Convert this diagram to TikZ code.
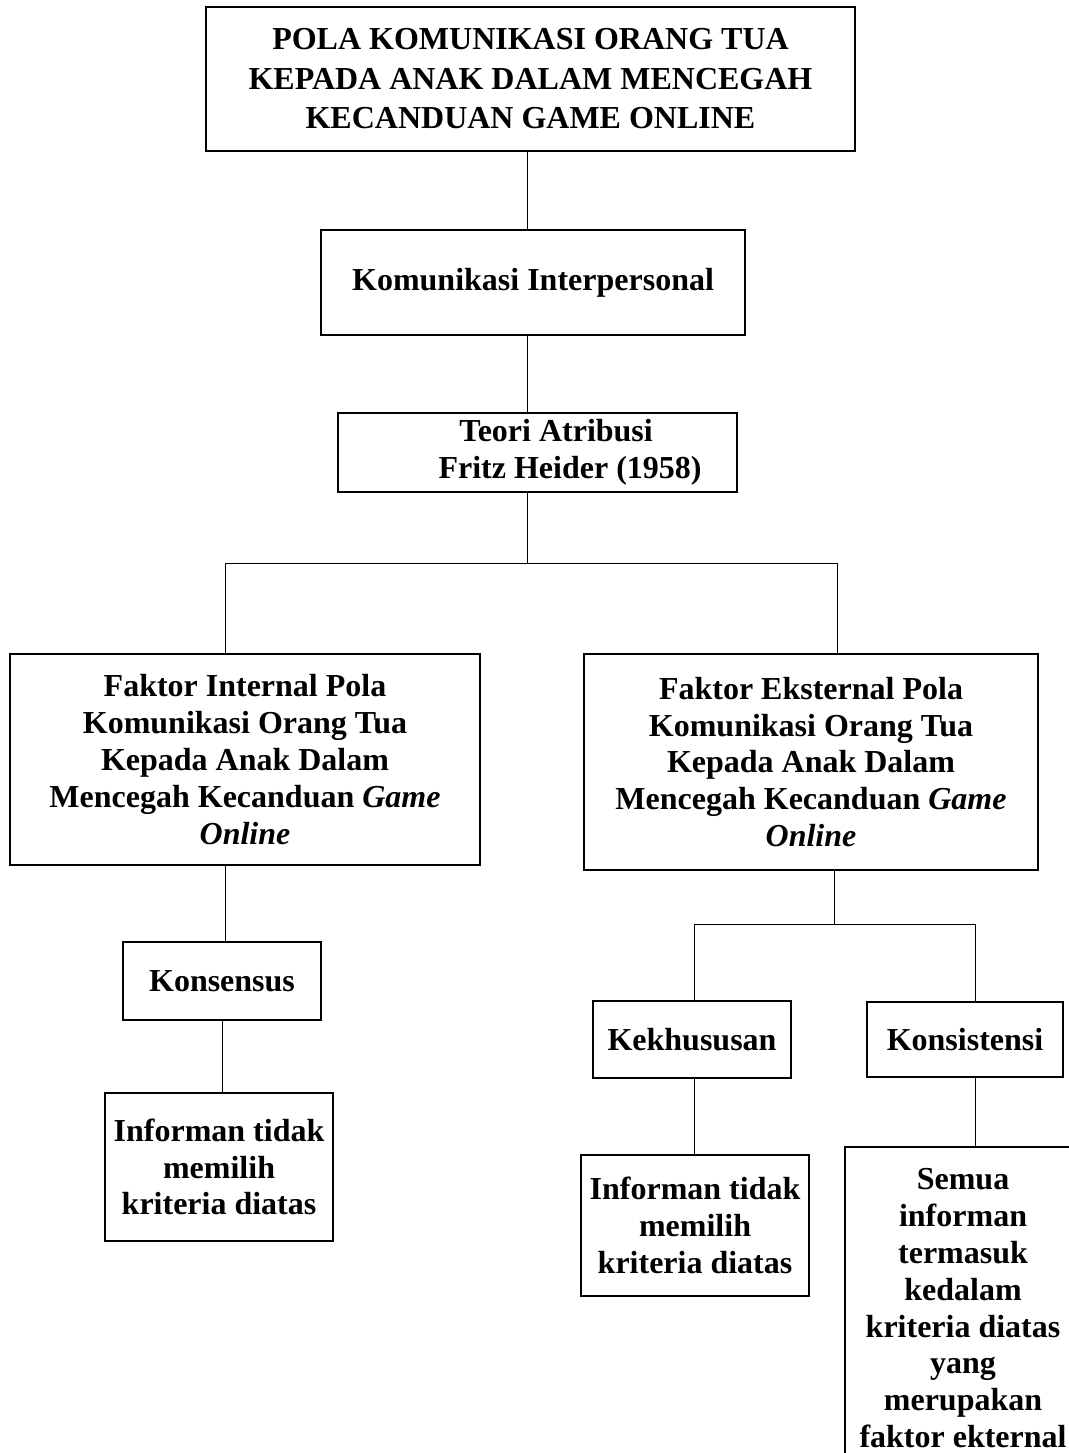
\documentclass[tikz,border=0pt]{standalone}
\usepackage{fontspec}
\setmainfont{Liberation Serif}
\usetikzlibrary{positioning}

\begin{document}
\begin{tikzpicture}[x=0.75pt, y=-0.75pt,
  box/.style={draw, line width=1.5pt, align=center, inner sep=0pt,
    font=\fontsize{24}{27.6}\selectfont\bfseries},
  link/.style={line width=0.75pt}]
  % Kerangka pemikiran
  \useasboundingbox (0,0) rectangle (1068,1453);

  \node[box, minimum width=486.75pt, minimum height=108pt,
    font=\fontsize{24}{29.6}\selectfont\bfseries] (title) at (530.5,79)
    {POLA KOMUNIKASI ORANG TUA\\KEPADA ANAK DALAM MENCEGAH\\KECANDUAN GAME ONLINE};
  \node[box, minimum width=318pt, minimum height=78.75pt, below=57.75pt of title, xshift=1.9pt] (kom)
    {\raisebox{-5pt}{Komunikasi Interpersonal}};
  \node[box, minimum width=299.25pt, minimum height=59.25pt, below=57pt of kom, xshift=3.4pt] (teori)
    {\hspace*{27.75pt}Teori Atribusi\\\hspace*{48.75pt}Fritz Heider (1958)};

  \node[box, minimum width=352.5pt, minimum height=158.25pt, below=120pt of teori, xshift=-219.4pt] (fint)
    {Faktor Internal Pola\\Komunikasi Orang Tua\\Kepada Anak Dalam\\Mencegah Kecanduan \textit{Game}\\\textit{Online}};
  \node[box, minimum width=340.5pt, minimum height=162pt, below=120pt of teori, xshift=205.1pt] (fext)
    {Faktor Eksternal Pola\\Komunikasi Orang Tua\\Kepada Anak Dalam\\Mencegah Kecanduan \textit{Game}\\\textit{Online}};

  \node[box, minimum width=148.5pt, minimum height=58.5pt, below=56.25pt of fint, xshift=-17.25pt] (kons)
    {Konsensus};
  \node[box, minimum width=171pt, minimum height=111pt, below=53.25pt of kons, xshift=-2.25pt] (inf1)
    {Informan tidak\\memilih\\kriteria diatas};

  \node[box, minimum width=148.5pt, minimum height=57.75pt, below=96.75pt of fext, xshift=-89.25pt] (kekh)
    {Kekhususan};
  \node[box, minimum width=147pt, minimum height=56.25pt, right=55.5pt of kekh] (konsis)
    {Konsistensi};
  \node[box, minimum width=171pt, minimum height=105.75pt, below=56.25pt of kekh, xshift=2.25pt] (inf2)
    {Informan tidak\\memilih\\kriteria diatas};
  \node[box, minimum width=177pt, minimum height=242pt, below=51pt of konsis, xshift=-1.5pt] (semua)
    {Semua\\informan\\termasuk\\kedalam\\kriteria diatas\\yang\\merupakan\\faktor ekternal};

  \coordinate (split) at (527,563);
  \coordinate (lsplit) at (225,563);
  \coordinate (rsplit) at (837,563);
  \coordinate (esplit) at (834,924);
  \coordinate (kl) at (694,924);
  \coordinate (kr) at (975,924);

  \draw[link] (split |- title.south) -- (split |- kom.north);
  \draw[link] (split |- kom.south) -- (split |- teori.north);
  \draw[link] (split |- teori.south) -- (split);
  \draw[link] (lsplit |- fint.north) -- (lsplit) -- (rsplit) -- (rsplit |- fext.north);
  \draw[link] (lsplit |- fint.south) -- (lsplit |- kons.north);
  \draw[link] (kons.south) -- (kons.south |- inf1.north);
  \draw[link] (esplit |- fext.south) -- (esplit);
  \draw[link] (kl |- kekh.north) -- (kl) -- (kr) -- (kr |- konsis.north);
  \draw[link] (kl |- kekh.south) -- (kl |- inf2.north);
  \draw[link] (kr |- konsis.south) -- (kr |- semua.north);

\end{tikzpicture}
\end{document}
